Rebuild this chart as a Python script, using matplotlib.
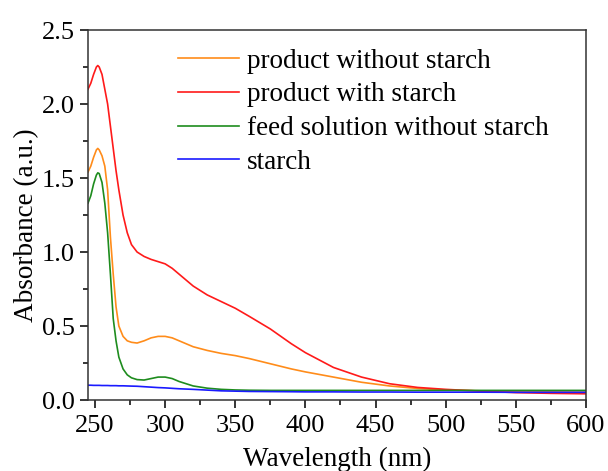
import numpy as np
import matplotlib
matplotlib.use("Agg")
import matplotlib.pyplot as plt
from matplotlib.ticker import MultipleLocator

plt.rcParams['font.family'] = ['Liberation Serif', 'DejaVu Serif']

# wavelength grid (nm) shared by all curves
wavelength = [245, 247, 249, 251, 252, 253, 255, 257, 259, 261, 263, 265, 267,
              270, 273, 276, 280, 285, 290, 295, 300, 305, 310, 320, 330, 340,
              350, 360, 375, 390, 400, 420, 440, 460, 480, 500, 525, 550, 575, 600]

product_no_starch = [1.54, 1.58, 1.64, 1.69, 1.70, 1.69, 1.65, 1.58, 1.42, 1.10,
                     0.85, 0.63, 0.50, 0.43, 0.40, 0.39, 0.385, 0.40, 0.42, 0.43,
                     0.43, 0.42, 0.40, 0.36, 0.335, 0.315, 0.30, 0.28, 0.245, 0.21,
                     0.19, 0.155, 0.12, 0.095, 0.078, 0.068, 0.062, 0.058, 0.055, 0.053]

product_starch = [2.10, 2.14, 2.20, 2.25, 2.26, 2.25, 2.20, 2.10, 2.00, 1.85,
                  1.70, 1.55, 1.42, 1.25, 1.13, 1.05, 1.00, 0.97, 0.95, 0.935,
                  0.92, 0.89, 0.85, 0.77, 0.71, 0.665, 0.62, 0.565, 0.48, 0.38,
                  0.32, 0.22, 0.155, 0.11, 0.085, 0.072, 0.060, 0.050, 0.045, 0.042]

feed_no_starch = [1.33, 1.38, 1.46, 1.52, 1.535, 1.53, 1.47, 1.33, 1.13, 0.85,
                  0.55, 0.40, 0.29, 0.21, 0.17, 0.15, 0.138, 0.135, 0.145, 0.155,
                  0.155, 0.145, 0.125, 0.095, 0.08, 0.072, 0.068, 0.066, 0.065, 0.065,
                  0.065, 0.065, 0.065, 0.065, 0.065, 0.065, 0.065, 0.065, 0.065, 0.065]

starch = [0.100, 0.100, 0.099, 0.099, 0.099, 0.099, 0.098, 0.098, 0.098, 0.097,
          0.097, 0.097, 0.096, 0.096, 0.095, 0.094, 0.093, 0.090, 0.087, 0.084,
          0.082, 0.079, 0.076, 0.072, 0.067, 0.062, 0.060, 0.058, 0.057, 0.056,
          0.055, 0.055, 0.054, 0.054, 0.053, 0.053, 0.053, 0.052, 0.052, 0.052]

series = [
    (product_no_starch, '#FF8C1A', 'product without starch'),
    (product_starch, '#FF1A1A', 'product with starch'),
    (feed_no_starch, '#1E8C1E', 'feed solution without starch'),
    (starch, '#1A1AFF', 'starch'),
]

fig = plt.figure(figsize=(6.08, 4.71), dpi=100)
ax = fig.add_axes([0.1447, 0.1507, 0.8191, 0.7856])

for values, color, label in series:
    ax.plot(wavelength, values, color=color, lw=1.2, label=label)

ax.set_xlim(245, 600)
ax.set_ylim(0, 2.5)
ax.xaxis.set_major_locator(MultipleLocator(50))
ax.xaxis.set_minor_locator(MultipleLocator(25))
ax.yaxis.set_major_locator(MultipleLocator(0.5))
ax.yaxis.set_minor_locator(MultipleLocator(0.25))
ax.yaxis.set_major_formatter(matplotlib.ticker.FormatStrFormatter('%.1f'))
ax.tick_params(which='major', direction='out', length=6, width=1.1, labelsize=19)
ax.tick_params(which='minor', direction='out', length=3.5, width=1.1)
ax.tick_params(axis='x', pad=5)
for sp in ax.spines.values():
    sp.set_linewidth(1.1)
    sp.set_color('#333333')

ax.set_xlabel('Wavelength (nm)', fontsize=19.5, labelpad=7)
ax.set_ylabel('Absorbance (a.u.)', fontsize=19.5)
ax.yaxis.set_label_coords(-0.099, 0.473)

ax.legend(loc='upper left', bbox_to_anchor=(0.132, 1.015), frameon=False,
          fontsize=19.5, handlelength=2.25, labelspacing=0.32, handletextpad=0.3)

fig.savefig('out.png', dpi=100)
